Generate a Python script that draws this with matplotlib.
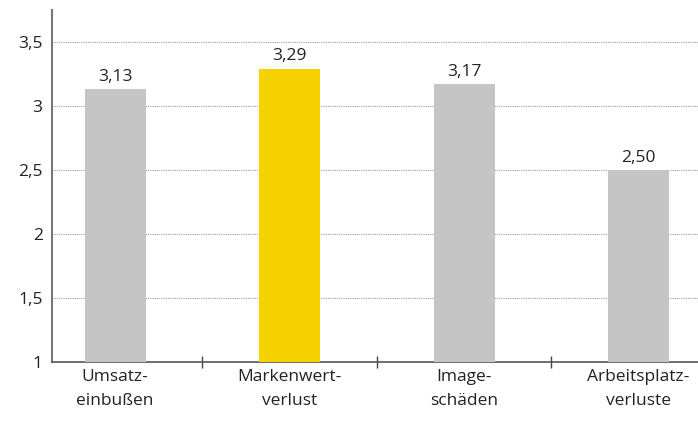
import matplotlib.pyplot as plt
import numpy as np

# categories and values
categories = ['Umsatz-\neinbußen', 'Markenwert-\nverlust', 'Image-\nschäden', 'Arbeitsplatz-\nverluste']
values = [3.13, 3.29, 3.17, 2.50]
bar_colors = ['#c4c5c4', '#f5d200', '#c4c5c4', '#c4c5c4']
yticks = [1, 1.5, 2, 2.5, 3, 3.5]

plt.rcParams['font.family'] = ['Open Sans', 'DejaVu Sans']

fig = plt.figure(figsize=(6.98, 4.21), dpi=100)
ax = fig.add_axes([0.075, 0.14, 0.925, 0.836])

x = np.arange(len(categories))
base = 1
ax.bar(x, [v - base for v in values], bottom=base, width=0.35, color=bar_colors, zorder=3)

for xi, v in zip(x, values):
    ax.text(xi, v + 0.035, f'{v:.2f}'.replace('.', ','), ha='center', va='bottom',
            fontsize=12.5, color='#222222')

# dotted grid lines
for t in yticks[1:]:
    ax.axhline(t, color='#a0a0a0', linestyle=(0, (1, 1)), linewidth=0.8, zorder=1)

ax.set_ylim(1, 3.75)
ax.set_xlim(-0.36, 3.34)
ax.set_yticks(yticks)
ax.set_yticklabels([f'{t:g}'.replace('.', ',') for t in yticks], fontsize=12.5, color='#222222')
ax.tick_params(axis='y', length=0, pad=7)

# category labels centred, ticks between categories
ax.set_xticks(x)
ax.set_xticklabels(categories, fontsize=12.5, color='#222222', linespacing=1.65)
ax.set_xticks(x[:-1] + 0.5, minor=True)
ax.tick_params(axis='x', which='major', length=0, pad=5)
ax.tick_params(axis='x', which='minor', length=8, direction='inout', color='#444444', width=1)

for s in ['top', 'right']:
    ax.spines[s].set_visible(False)
ax.spines['left'].set_color('#777777')
ax.spines['left'].set_linewidth(1.5)
ax.spines['bottom'].set_color('#555555')
ax.spines['bottom'].set_linewidth(1.2)

fig.savefig('out.png', dpi=100)
